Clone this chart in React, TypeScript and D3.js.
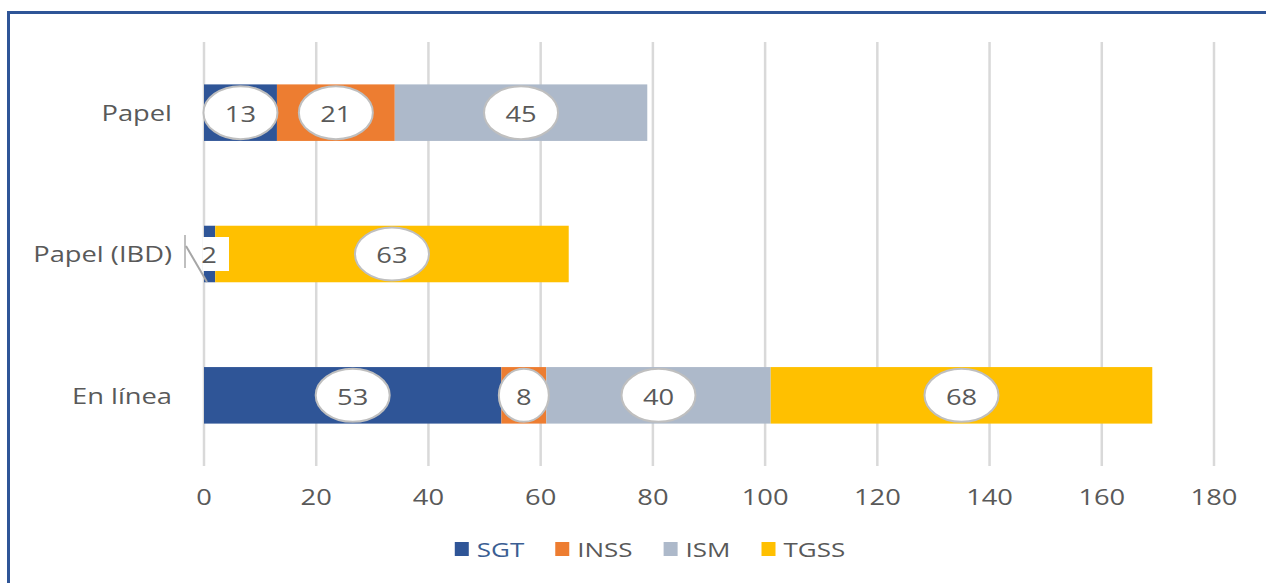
import React, { useEffect, useRef } from 'react';
import * as d3 from 'd3';

const categories = ['Papel', 'Papel (IBD)', 'En línea'];
const seriesNames = ['SGT', 'INSS', 'ISM', 'TGSS'];
const sgtValues = [13, 2, 53];
const inssValues = [21, 0, 8];
const ismValues = [45, 0, 40];
const tgssValues = [0, 63, 68];
const xTicks = [0, 20, 40, 60, 80, 100, 120, 140, 160, 180];

const colors = ['#2F5597', '#ED7D31', '#ADB9CA', '#FFC000'];

export default function App() {
  const svgRef = useRef<SVGSVGElement>(null);

  useEffect(() => {
    if (!svgRef.current) return;
    const svg = d3.select(svgRef.current);
    svg.selectAll('*').remove();

    const width = 1266;
    const height = 583;
    const font = "'Open Sans', sans-serif";
    const stretch = 1.3; // the picture is wider than it is tall
    const textColor = '#595959';

    // frame
    svg.append('line').attr('x1', 8.5).attr('x2', 8.5).attr('y1', 11).attr('y2', height)
      .attr('stroke', '#2F5597').attr('stroke-width', 3);
    svg.append('line').attr('x1', 7).attr('x2', width).attr('y1', 12.5).attr('y2', 12.5)
      .attr('stroke', '#2F5597').attr('stroke-width', 3);

    const x = d3.scaleLinear().domain([0, 180]).range([204, 1214]);
    const y = d3.scaleBand<string>().domain(categories).range([42, 466]).padding(0);
    const barH = y.bandwidth() * 0.4;

    const addText = (g: any, tx: number, ty: number, txt: string, size: number, anchor: string, fill = textColor) =>
      g.append('text')
        .attr('transform', `translate(${tx},${ty}) scale(${stretch},1)`)
        .attr('text-anchor', anchor)
        .attr('dominant-baseline', 'central')
        .style('font-family', font)
        .style('font-size', `${size}px`)
        .attr('fill', fill)
        .text(txt);

    // grid lines
    svg.append('g').selectAll('line').data(xTicks).join('line')
      .attr('x1', d => x(d)).attr('x2', d => x(d))
      .attr('y1', 42).attr('y2', 466)
      .attr('stroke', '#d9d9d9').attr('stroke-width', 2.5);

    // tick labels
    const tg = svg.append('g');
    xTicks.forEach(t => addText(tg, x(t), 497, String(t), 21, 'middle'));

    // category labels
    const cg = svg.append('g');
    categories.forEach(c => addText(cg, 172, (y(c) as number) + y.bandwidth() / 2, c, 21, 'end'));

    // stacked bars
    const rows = categories.map((c, i) => ({
      cat: c, SGT: sgtValues[i], INSS: inssValues[i], ISM: ismValues[i], TGSS: tgssValues[i],
    }));
    const stacked = d3.stack<any>().keys(seriesNames)(rows);

    const bars = svg.append('g');
    stacked.forEach((layer, si) => {
      bars.append('g').attr('fill', colors[si]).selectAll('rect')
        .data(layer.filter(d => d[1] - d[0] > 0)).join('rect')
        .attr('x', d => x(d[0]))
        .attr('width', d => x(d[1]) - x(d[0]))
        .attr('y', d => (y(d.data.cat) as number) + (y.bandwidth() - barH) / 2)
        .attr('height', barH);
    });

    // data labels
    const lg = svg.append('g');
    stacked.forEach(layer => {
      layer.forEach(d => {
        const v = d[1] - d[0];
        if (v <= 0) return;
        const cy = (y(d.data.cat) as number) + y.bandwidth() / 2;
        const x0 = x(d[0]);
        const segW = x(d[1]) - x0;
        const cx = (x(d[0]) + x(d[1])) / 2;
        if (segW < 20) {
          // small value: plain box with a leader line
          lg.append('line').attr('x1', x0 - 19).attr('x2', x0 - 19).attr('y1', cy - 19).attr('y2', cy + 14)
            .attr('stroke', '#bfbfbf').attr('stroke-width', 2);
          lg.append('line').attr('x1', x0 - 18).attr('x2', x0 + 3).attr('y1', cy - 8).attr('y2', cy + 28)
            .attr('stroke', '#a6a6a6').attr('stroke-width', 2);
          lg.append('rect').attr('x', x0 - 1).attr('y', cy - 17).attr('width', 26).attr('height', 34).attr('fill', '#fff');
          addText(lg, x0 + 5, cy + 1, String(v), 21, 'middle');
          return;
        }
        const rx = String(v).length > 1 ? 37 : 25;
        lg.append('ellipse').attr('cx', cx).attr('cy', cy).attr('rx', rx).attr('ry', 26.5)
          .attr('fill', '#fff').attr('stroke', '#bfbfbf').attr('stroke-width', 2);
        addText(lg, cx, cy + 1, String(v), 21, 'middle');
      });
    });

    // legend
    const leg = svg.append('g');
    const legY = 549;
    const items = seriesNames.map((name, i) => {
      const t = addText(leg, 0, legY, name, 20, 'start', i === 0 ? '#3B5E93' : textColor);
      const w = (t.node() as SVGTextElement).getComputedTextLength() * stretch;
      return { t, w, i };
    });
    const sq = 14, gapIn = 8, gapOut = 31;
    const total = d3.sum(items, d => sq + gapIn + d.w) + gapOut * (items.length - 1);
    let lx = 650 - total / 2;
    items.forEach(it => {
      leg.append('rect').attr('x', lx).attr('y', legY - sq / 2).attr('width', sq).attr('height', sq)
        .attr('fill', colors[it.i]);
      it.t.attr('transform', `translate(${lx + sq + gapIn},${legY}) scale(${stretch},1)`);
      lx += sq + gapIn + it.w + gapOut;
    });
  }, []);

  return (
    <div style={{ position: 'absolute', left: 0, top: 0, width: 1266, height: 583, background: '#fff' }}>
      <svg ref={svgRef} width={1266} height={583} style={{ display: 'block' }} />
    </div>
  );
}
